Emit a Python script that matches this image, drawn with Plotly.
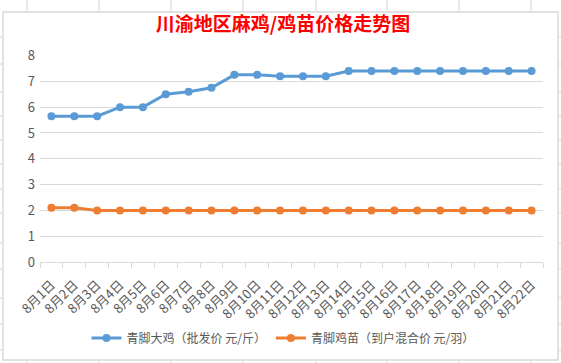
import plotly.graph_objects as go

dates = [f"8月{d}日" for d in range(1, 23)]
big_chicken = [5.65, 5.65, 5.65, 6.0, 6.0, 6.5, 6.6, 6.75, 7.25, 7.25, 7.2, 7.2, 7.2,
               7.4, 7.4, 7.4, 7.4, 7.4, 7.4, 7.4, 7.4, 7.4]
chick = [2.1, 2.1, 2.0, 2.0, 2.0, 2.0, 2.0, 2.0, 2.0, 2.0, 2.0, 2.0, 2.0,
         2.0, 2.0, 2.0, 2.0, 2.0, 2.0, 2.0, 2.0, 2.0]
series_names = ["青脚大鸡（批发价 元/斤）", "青脚鸡苗（到户混合价 元/羽）"]
title_text = "川渝地区麻鸡/鸡苗价格走势图"

W, H = 561, 363
L, R, T, B = 40, 543, 55, 262

fig = go.Figure()
fig.add_trace(go.Scatter(x=dates, y=big_chicken, name=series_names[0], mode="lines+markers",
                         line=dict(color="#5B9BD5", width=3), marker=dict(size=8, color="#5B9BD5")))
fig.add_trace(go.Scatter(x=dates, y=chick, name=series_names[1], mode="lines+markers",
                         line=dict(color="#ED7D31", width=3), marker=dict(size=8, color="#ED7D31")))

def px_x(x):
    return (x - L) / (R - L)
def px_y(y):
    return (B - y) / (B - T)

shapes = []
shapes.append(dict(type="rect", xref="paper", yref="paper", x0=px_x(3), x1=px_x(558),
                   y0=px_y(360), y1=px_y(12), line=dict(color="#d9d9d9", width=1.5), layer="below"))
grid_col = "#d4d4d4"
for x in [27, 99, 171, 243, 316, 387, 459, 531]:
    shapes.append(dict(type="line", xref="paper", yref="paper", x0=px_x(x), x1=px_x(x),
                       y0=px_y(0), y1=px_y(11), line=dict(color=grid_col, width=1)))
    shapes.append(dict(type="line", xref="paper", yref="paper", x0=px_x(x), x1=px_x(x),
                       y0=px_y(361), y1=px_y(363), line=dict(color=grid_col, width=1)))
for y in [37, 64, 92, 116, 140, 164, 189, 213, 243, 269, 298, 324, 350]:
    shapes.append(dict(type="line", xref="paper", yref="paper", x0=px_x(0), x1=px_x(2),
                       y0=px_y(y), y1=px_y(y), line=dict(color=grid_col, width=1)))
    shapes.append(dict(type="line", xref="paper", yref="paper", x0=px_x(559), x1=px_x(561),
                       y0=px_y(y), y1=px_y(y), line=dict(color=grid_col, width=1)))

fig.update_layout(
    width=W, height=H,
    margin=dict(l=L, r=W - R, t=T, b=H - B, autoexpand=False),
    paper_bgcolor="white", plot_bgcolor="white",
    title=dict(text="<b>" + title_text + "</b>", x=283 / W, xanchor="center", y=1 - 24 / H,
               yanchor="middle",
               font=dict(family="Noto Sans CJK SC", size=19, color="#FF0000")),
    font=dict(family="Noto Sans CJK SC, DejaVu Sans", color="#595959", size=12),
    xaxis=dict(type="category", range=[-0.5, len(dates) - 0.5], tickangle=-45,
               ticks="outside", tickson="boundaries",
               ticklen=5, tickcolor="#d9d9d9", showline=True, linecolor="#d9d9d9",
               linewidth=1, showgrid=False, automargin=False, ticklabelstandoff=9,
               tickfont=dict(size=13, color="#595959")),
    yaxis=dict(range=[0, 8.02], dtick=1, showgrid=True, gridcolor="#d9d9d9", gridwidth=1,
               zeroline=False, showline=False, ticks="", automargin=False,
               tickfont=dict(size=13, color="#595959"), ticklabelstandoff=4),
    legend=dict(orientation="h", x=px_x(283), xanchor="center", y=px_y(338),
                yanchor="middle", font=dict(size=12, color="#595959"), itemwidth=30),
    showlegend=True,
    shapes=shapes,
)
fig.write_html("out.html", config={"displayModeBar": False},
               post_script="document.body.style.margin='0';document.body.style.padding='0';")
